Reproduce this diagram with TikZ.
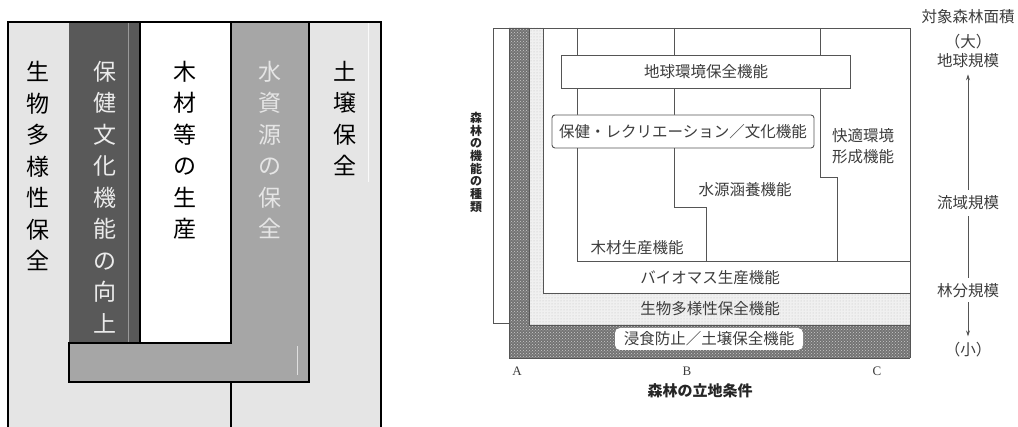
\documentclass[tikz,border=0pt]{standalone}
\usepackage{fontspec}
\setmainfont{Liberation Serif}
\newfontfamily\jp{Noto Sans CJK JP}
\usetikzlibrary{patterns,arrows.meta}
\definecolor{lgray}{HTML}{E5E5E5}
\definecolor{dgray}{HTML}{595959}
\definecolor{mgray}{HTML}{A6A6A6}
\definecolor{ink}{HTML}{3C3C3C}
\definecolor{lineink}{HTML}{555555}
\tikzset{
  vcol/.style={anchor=north, align=center, inner sep=0pt, font=\jp\fontsize{23}{27.6}\selectfont},
  blk/.style={line width=1.2pt, black},
  fline/.style={line width=0.9pt, lineink},
  lbl/.style={inner sep=0pt, text=ink, font=\jp\fontsize{15.5}{18.6}\selectfont, align=center},
  lbls/.style={inner sep=0pt, text=ink, font=\jp\fontsize{15.5}{18.6}\selectfont},
  abc/.style={inner sep=0pt, text=ink, font=\fontsize{13}{14}\selectfont},
  hatch/.style={fill=black!55},
}
\begin{document}
\begin{tikzpicture}[x=1pt,y=-1pt]
\useasboundingbox (0,0) rectangle (1018,427);
% ---------------- left panel ----------------
\fill[lgray] (8,22) rectangle (381,427);
\fill[dgray] (69,22) rectangle (140,343);
\fill[white] (140,22) rectangle (231,343);
\fill[mgray] (231,22) rectangle (309,343);
\fill[mgray] (69,343) rectangle (309,382);
\draw[gray!80, line width=0.6pt] (128,22) -- (128,343);
\draw[white!80!lgray, line width=0.6pt] (368,22) -- (368,182);
\draw[gray!25, line width=0.5pt] (297,346) -- (297,375);
\draw[blk] (8,427) -- (8,22) -- (381,22) -- (381,427);
\draw[blk] (140,22) -- (140,343) -- (231,343) -- (231,22);
\draw[blk] (309,22) -- (309,382) -- (69,382) -- (69,343) -- (140,343);
\draw[blk] (231,382) -- (231,427);
\node[vcol, text=black] (c1) at (38,61) {生\\[3.9pt]物\\[3.9pt]多\\[3.9pt]様\\[3.9pt]性\\[3.9pt]保\\[3.9pt]全};
\node[vcol, text=white!92!black] (c2) at (105,61) {保\\[3.9pt]健\\[3.9pt]文\\[3.9pt]化\\[3.9pt]機\\[3.9pt]能\\[3.9pt]の\\[3.9pt]向\\[3.9pt]上};
\node[vcol, text=black] (c3) at (185,61) {木\\[3.9pt]材\\[3.9pt]等\\[3.9pt]の\\[3.9pt]生\\[3.9pt]産};
\node[vcol, text=white!90!black] (c4) at (270,61) {水\\[3.9pt]資\\[3.9pt]源\\[3.9pt]の\\[3.9pt]保\\[3.9pt]全};
\node[vcol, text=black] (c5) at (345,61) {土\\[3.9pt]壌\\[3.9pt]保\\[3.9pt]全};
% ---------------- right panel ----------------
% light stippled band
\fill[black!6] (529,28) -- (543,28) -- (543,293) -- (910,293) -- (910,325) -- (529,325) -- cycle;
\fill[pattern=dots, pattern color=black!25] (529,28) -- (543,28) -- (543,293) -- (910,293) -- (910,325) -- (529,325) -- cycle;
% hatched L band
\fill[hatch] (509,28) -- (529,28) -- (529,325) -- (910,325) -- (910,358) -- (509,358) -- cycle;
\fill[pattern=crosshatch dots, pattern color=black!20] (509,28) -- (529,28) -- (529,325) -- (910,325) -- (910,358) -- (509,358) -- cycle;
\draw[fline] (509,28) -- (509,358) -- (910,358);
\draw[fline] (529,28) -- (529,325) -- (910,325);
% outer frame
\draw[fline] (509,323) -- (493,323) -- (493,28) -- (910,28) -- (910,358);
% nested function regions
\draw[fline] (543,28) -- (543,293) -- (910,293);
\draw[fline] (577,28) -- (577,261) -- (910,261);
\draw[fline] (674,28) -- (674,207) -- (706,207) -- (706,261);
\draw[fline] (820,28) -- (820,177) -- (837,177) -- (837,261);
% boxes
\node[draw=lineink, line width=0.9pt, fill=white, minimum width=289pt, minimum height=33pt, inner sep=0pt] (b1) at (705.5,71.5) {};
\node[lbls] (t1) at (706,71.5) {地球環境保全機能};
\node[draw=lineink, line width=0.9pt, fill=white, rounded corners=3pt, minimum width=262pt, minimum height=33pt, inner sep=0pt] (b2) at (683,131.5) {};
\node[lbls] (t2) at (683,132) {保健・レクリエーション／文化機能};
\node[lbl] (t3) at (863,146) {快適環境\\[3pt]形成機能};
\node[lbls] (t4) at (745,190) {水源涵養機能};
\node[lbls] (t5) at (637,248) {木材生産機能};
\node[lbls] (t6) at (710,278) {バイオマス生産機能};
\node[lbls] (t7) at (710,309) {生物多様性保全機能};
\node[fill=white, rounded corners=5pt, minimum width=188pt, minimum height=22pt, inner sep=0pt] (b8) at (709,339) {};
\node[lbls] (t8) at (709,339) {浸食防止／土壌保全機能};
% axis letters
\node[abc] (la) at (517,371) {A};
\node[abc] (lb) at (687,371) {B};
\node[abc] (lc) at (877,371) {C};
\node[inner sep=0pt, text=black!85, font=\jp\bfseries\fontsize{15}{18}\selectfont] (xl) at (700,391) {森林の立地条件};
\node[anchor=north, align=center, inner sep=0pt, text=black!85, font=\jp\bfseries\fontsize{12}{14.4}\selectfont] (yl) at (476,112) {森\\[-1.7pt]林\\[-1.7pt]の\\[-1.7pt]機\\[-1.7pt]能\\[-1.7pt]の\\[-1.7pt]種\\[-1.7pt]類};
% scale
\node[lbls] (s1) at (968,17) {対象森林面積};
\node[lbls] (s2) at (968,42) {（大）};
\node[lbls] (s3) at (968,61) {地球規模};
\node[lbls] (s4) at (968,203) {流域規模};
\node[lbls] (s5) at (968,291) {林分規模};
\node[lbls] (s6) at (968,350) {（小）};
\draw[fline, line width=0.7pt, -{Stealth[length=6pt,width=4pt]}, shorten <=6pt, shorten >=6pt] (s4) -- (s3);
\draw[fline, line width=0.7pt, shorten <=6pt, shorten >=6pt] (s4) -- (s5);
\draw[fline, line width=0.7pt, -{Stealth[length=6pt,width=4pt]}, shorten <=4pt, shorten >=6pt] (s5) -- (s6);
\end{tikzpicture}
\end{document}
